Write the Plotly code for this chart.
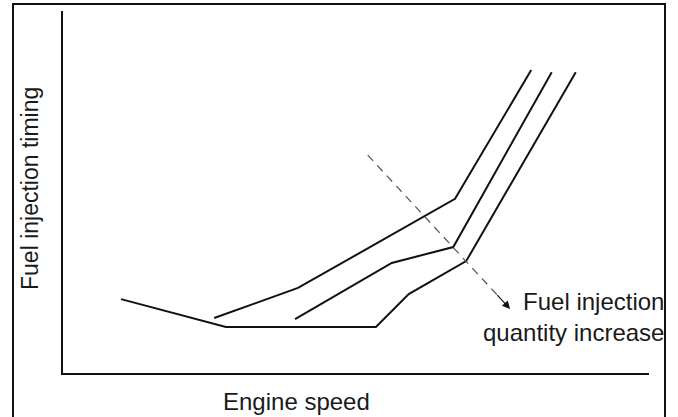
import plotly.graph_objects as go

# Curves: engine speed (x) vs fuel injection timing (y), arbitrary units 0-100
speed_q1 = [9.9, 27.8, 53.4, 59.0, 68.8, 87.5]
timing_q1 = [20.4, 12.7, 12.7, 21.8, 30.9, 83.1]

speed_q2 = [25.8, 40.1, 66.9, 79.9]
timing_q2 = [15.2, 23.5, 48.1, 83.7]

speed_q3 = [39.6, 56.1, 66.6, 83.4]
timing_q3 = [14.9, 30.4, 34.8, 83.1]

# dashed "quantity increase" arrow (data units)
arrow_start = (52.0, 60.2)
arrow_tip = (76.3, 17.7)

x_title = "Engine speed"
y_title = "Fuel injection timing"
note = "Fuel injection<br>quantity increase"

FONT = "Liberation Sans, Arial, sans-serif"
W, H = 678, 417
L, R, T, B = 63, 29, 11, 44
pw, ph = W - L - R, H - T - B

def px_to_paper_x(px):
    return (px - L) / pw

def px_to_paper_y(py):
    return (H - B - py) / ph

fig = go.Figure()
for xs, ys in [(speed_q1, timing_q1), (speed_q2, timing_q2), (speed_q3, timing_q3)]:
    fig.add_trace(go.Scatter(x=xs, y=ys, mode="lines",
                             line=dict(color="#111111", width=2),
                             showlegend=False, hoverinfo="skip"))

# dashed guide line (stops just short of the tip)
frac = 0.93
end_x = arrow_start[0] + (arrow_tip[0] - arrow_start[0]) * frac
end_y = arrow_start[1] + (arrow_tip[1] - arrow_start[1]) * frac
fig.add_trace(go.Scatter(x=[arrow_start[0], end_x], y=[arrow_start[1], end_y],
                         mode="lines", line=dict(color="#555555", width=1.2, dash="8px,6px"),
                         showlegend=False, hoverinfo="skip"))

hx = arrow_start[0] + (arrow_tip[0] - arrow_start[0]) * 0.9
hy = arrow_start[1] + (arrow_tip[1] - arrow_start[1]) * 0.9
fig.add_annotation(x=arrow_tip[0], y=arrow_tip[1], ax=hx, ay=hy,
                   xref="x", yref="y", axref="x", ayref="y",
                   text="", showarrow=True, arrowhead=2, arrowsize=1.3,
                   arrowwidth=1.2, arrowcolor="#111111")

fig.add_annotation(x=px_to_paper_x(666), y=px_to_paper_y(317), xref="paper", yref="paper",
                   text=note, showarrow=False, xanchor="right", yanchor="middle",
                   align="right", font=dict(family=FONT, size=24, color="#1a1a1a"))

fig.add_annotation(x=px_to_paper_x(296), y=px_to_paper_y(401), xref="paper", yref="paper",
                   text=x_title, showarrow=False, xanchor="center", yanchor="middle",
                   font=dict(family=FONT, size=24, color="#1a1a1a"))

fig.add_annotation(x=px_to_paper_x(30), y=px_to_paper_y(189), xref="paper", yref="paper",
                   text=y_title, showarrow=False, xanchor="center", yanchor="middle",
                   textangle=-90, font=dict(family=FONT, size=23, color="#1a1a1a"))

# outer frame
fig.add_shape(type="rect", xref="paper", yref="paper",
              x0=px_to_paper_x(13), x1=px_to_paper_x(665),
              y0=px_to_paper_y(430), y1=px_to_paper_y(4),
              line=dict(color="#111111", width=2), fillcolor="rgba(0,0,0,0)")

fig.update_xaxes(range=[0, 100], showline=True, linecolor="#111111", linewidth=2,
                 showgrid=False, zeroline=False, showticklabels=False, ticks="")
fig.update_yaxes(range=[0, 100], showline=True, linecolor="#111111", linewidth=2,
                 showgrid=False, zeroline=False, showticklabels=False, ticks="")

fig.update_layout(width=W, height=H, margin=dict(l=L, r=R, t=T, b=B),
                  paper_bgcolor="white", plot_bgcolor="white",
                  font=dict(family=FONT, color="#1a1a1a"))

fig.write_html("out.html", config={"displayModeBar": False},
               post_script="document.body.style.margin='0';document.body.style.overflow='hidden';")
